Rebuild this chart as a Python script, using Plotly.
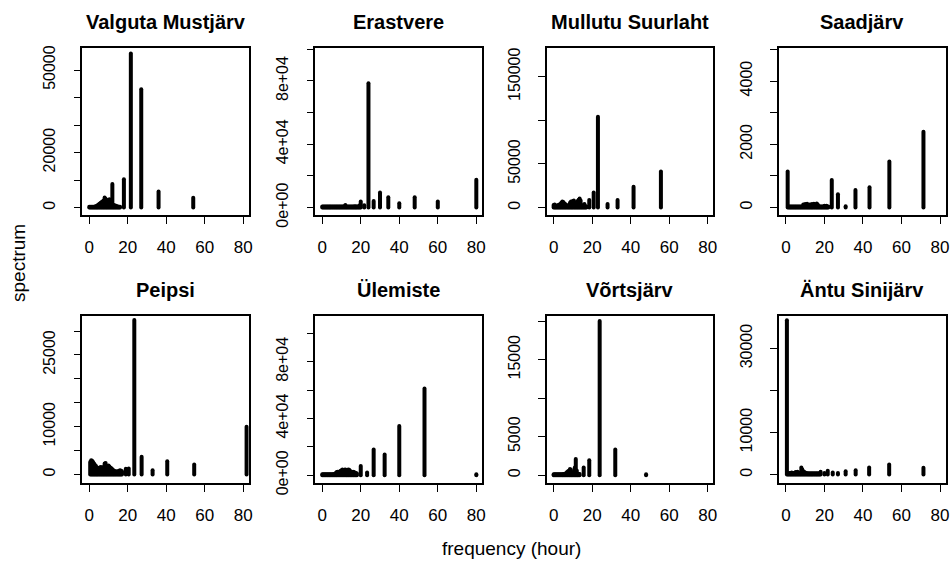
import plotly.graph_objects as go

# ---------------- data ----------------
titles = ["Valguta Mustjärv", "Erastvere", "Mullutu Suurlaht", "Saadjärv",
          "Peipsi", "Ülemiste", "Võrtsjärv", "Äntu Sinijärv"]

x_valguta = [0, 0.5, 1, 1.5, 2, 2.5, 3, 3.5, 4, 4.5, 5, 5.5, 6, 6.5, 7, 7.5, 8, 8.5,
             9, 9.5, 10, 10.5, 11, 11.5, 12, 12.5, 13, 13.5, 14, 14.5, 15, 15.5, 16,
             18, 21.6, 27, 36, 54]
y_valguta = [300, 300, 300, 300, 300, 300, 400, 500, 700, 900, 1200, 1500, 1800, 2000, 2300, 2600, 3700, 3200,
             2200, 2800, 2600, 3000, 1500, 900, 8600, 600, 900, 400, 700, 300, 400, 300, 300,
             10300, 56000, 43000, 5800, 3600]

x_erastvere = [0, 0.5, 1, 1.5, 2, 2.5, 3, 3.5, 4, 4.5, 5, 5.5, 6, 6.5, 7, 7.5, 8, 8.5,
               9, 9.5, 10, 10.5, 11, 11.5, 12, 12.5, 13, 13.5, 14, 14.5, 15, 15.5, 16,
               16.5, 17, 17.5, 18, 18.5, 19, 19.5, 20, 21.8, 24, 26.7, 30, 34.3, 40, 48, 60, 80]
y_erastvere = [600, 600, 600, 600, 600, 600, 600, 600, 600, 600, 600, 600, 600, 600, 600, 600, 600, 600,
               600, 600, 600, 600, 700, 800, 1700, 700, 600, 600, 700, 600, 700, 600, 700,
               600, 800, 600, 600, 700, 900, 1500, 3800, 1500, 78600, 4200, 9500, 6500, 2700, 6500, 3800, 17500]

x_mullutu = [0, 0.5, 1, 1.5, 2, 2.5, 3, 3.5, 4, 4.5, 5, 5.5, 6, 6.5, 7, 7.5, 8, 8.5,
             9, 9.5, 10, 10.5, 11, 11.5, 12, 12.5, 13, 13.5, 14, 14.5, 15, 15.5, 16, 16.5, 17,
             18.5, 20.8, 23, 28, 33.2, 41.5, 55.7]
y_mullutu = [3000, 3500, 2500, 2000, 2500, 3000, 3500, 4000, 5500, 7000, 6500, 5000, 4000, 3000, 2500, 2000, 3000, 5500,
             7000, 6000, 7500, 8000, 6000, 4000, 5000, 7500, 9000, 10500, 8000, 3000, 2000, 1500, 4000, 1500, 1200,
             8800, 17200, 104200, 4200, 8800, 24000, 41200]

x_saadjarv = [0.9, 1.5, 2, 2.5, 3, 3.5, 4, 4.5, 5, 5.5, 6, 6.5, 7, 7.5, 8, 8.5, 9, 9.5, 10, 10.5,
              11, 11.5, 12, 12.5, 13, 13.5, 14, 14.5, 15, 15.5, 16, 16.5, 17, 17.5, 18, 18.5,
              19, 19.5, 20, 20.5, 21, 21.5, 22, 23.8, 27, 31, 36.1, 43.4, 53.7, 71.4]
y_saadjarv = [1137, 35, 35, 35, 35, 35, 35, 35, 35, 35, 35, 35, 35, 35, 35, 35, 100, 60, 110, 80,
              120, 70, 90, 100, 60, 110, 80, 120, 60, 90, 130, 100, 50, 35, 35, 35,
              35, 35, 60, 35, 60, 35, 35, 874, 421, 40, 558, 642, 1453, 2400]

x_peipsi = [0.5, 1, 1.5, 2, 2.5, 3, 3.5, 4, 4.5, 5, 5.5, 6, 6.5, 7, 7.5, 8, 8.5,
            9, 9.5, 10, 10.5, 11, 11.5, 12, 12.5, 13, 13.5, 14, 14.5, 15, 15.5, 16, 16.5, 17,
            19, 20.5, 23.4, 27.2, 32.9, 40.5, 54.5, 81.7]
y_peipsi = [2600, 3000, 2900, 2600, 2300, 2000, 1800, 1500, 1400, 1300, 1500, 1600, 1500, 1400, 1600, 2300, 2400,
            1600, 1800, 1900, 1700, 1400, 1300, 1100, 900, 800, 600, 700, 600, 700, 800, 900, 800, 700,
            1200, 1250, 32300, 3700, 900, 2800, 2100, 10000]

x_ulemiste = [0, 0.5, 1, 1.5, 2, 2.5, 3, 3.5, 4, 4.5, 5, 5.5, 6, 6.5, 7, 7.5, 8, 8.5,
              9, 9.5, 10, 10.5, 11, 11.5, 12, 12.5, 13, 13.5, 14, 14.5, 15, 15.5, 16, 16.5, 17, 17.5, 18,
              20, 23.3, 26.7, 32.4, 40, 53.1, 80]
y_ulemiste = [700, 700, 700, 700, 700, 700, 700, 700, 700, 700, 700, 700, 800, 900, 1500, 2200, 2400, 2000,
              2600, 3000, 3500, 4000, 3200, 3800, 4000, 3000, 3500, 4000, 3800, 3000, 2500, 2000, 2400, 2200, 1800, 1500, 1200,
              6600, 1900, 18100, 14600, 34800, 61200, 700]

x_vortsjarv = [0, 0.5, 1, 1.5, 2, 2.5, 3, 3.5, 4, 4.5, 5, 5.5, 6, 6.5, 7, 7.5, 8, 8.5,
               9, 9.5, 10, 10.5, 11, 11.5, 12, 12.5, 13, 13.5, 15.6, 18.5, 23.9, 32, 48]
y_vortsjarv = [130, 130, 130, 130, 130, 130, 130, 130, 130, 130, 150, 150, 200, 300, 400, 500, 600, 800,
               700, 300, 300, 200, 1000, 2100, 600, 200, 200, 150, 1000, 1950, 20000, 3330, 130]

x_antu = [0.5, 1, 1.5, 2, 2.5, 3, 3.5, 4, 4.5, 5, 5.5, 6, 6.5, 7, 7.5, 8, 8.5,
          9, 9.5, 10, 10.5, 11, 11.5, 12, 12.5, 13, 13.5, 14, 14.5, 15, 15.5, 16, 16.5, 17, 17.5, 18,
          20, 21.7, 24.3, 27, 31, 36.2, 43.2, 53.6, 71.4]
y_antu = [36700, 300, 300, 400, 300, 500, 400, 400, 300, 600, 500, 700, 400, 400, 500, 1670, 1200,
          800, 600, 500, 400, 300, 300, 250, 300, 250, 300, 250, 300, 250, 300, 250, 300, 250, 300, 700,
          400, 900, 500, 350, 800, 1000, 1700, 2400, 1600]

series = [(x_valguta, y_valguta), (x_erastvere, y_erastvere), (x_mullutu, y_mullutu),
          (x_saadjarv, y_saadjarv), (x_peipsi, y_peipsi), (x_ulemiste, y_ulemiste),
          (x_vortsjarv, y_vortsjarv), (x_antu, y_antu)]

x_ticks = [0, 20, 40, 60, 80]
y_tickvals = [
    [0, 10000, 20000, 30000, 40000, 50000],
    [0, 20000, 40000, 60000, 80000, 100000],
    [0, 50000, 100000, 150000],
    [0, 1000, 2000, 3000, 4000, 5000],
    [0, 5000, 10000, 15000, 20000, 25000, 30000],
    [0, 20000, 40000, 60000, 80000, 100000],
    [0, 5000, 10000, 15000, 20000],
    [0, 10000, 20000, 30000],
]
y_ticktext = [
    ["0", "", "20000", "", "", "50000"],
    ["0e+00", "", "4e+04", "", "8e+04", ""],
    ["0", "50000", "", "150000"],
    ["0", "", "2000", "", "4000", ""],
    ["0", "", "10000", "", "", "25000", ""],
    ["0e+00", "", "4e+04", "", "8e+04", ""],
    ["0", "5000", "", "15000", ""],
    ["0", "10000", "", "30000"],
]
y_ranges = [[-2660, 58110], [-4630, 101000], [-8400, 183200], [-232, 5053],
            [-1743, 33200], [-5400, 112500], [-1000, 20700], [-1980, 37800]]
x_range = [-3.6, 82.9]

# ---------------- layout geometry (pixels) ----------------
W, H = 950, 561
col_left = [82.3, 315.3, 546.7, 779.0]
box_w = 166.6
row_top = [47.7, 315.7]
box_h = 167.2

FONT = "Liberation Sans, Arial, sans-serif"

fig = go.Figure()
layout = dict(width=W, height=H, margin=dict(l=0, r=0, t=0, b=0, autoexpand=False),
              paper_bgcolor="white", plot_bgcolor="white", showlegend=False,
              font=dict(family=FONT, color="black"))
annotations = []

for i, (xs, ys) in enumerate(series):
    r, c = divmod(i, 4)
    X, Y = [], []
    for xv, yv in zip(xs, ys):
        X += [xv, xv, None]
        Y += [0, yv, None]
    sfx = "" if i == 0 else str(i + 1)
    fig.add_trace(go.Scatter(x=X, y=Y, mode="lines",
                             line=dict(color="black", width=4),
                             xaxis="x" + sfx, yaxis="y" + sfx,
                             hoverinfo="skip"))
    x0 = col_left[c] / W
    x1 = (col_left[c] + box_w) / W
    yt = 1 - row_top[r] / H
    yb = 1 - (row_top[r] + box_h) / H
    layout["xaxis" + sfx] = dict(
        domain=[x0, x1], anchor="y" + sfx, range=x_range, automargin=False,
        tickmode="array", tickvals=x_ticks, ticktext=[str(v) for v in x_ticks],
        ticks="outside", ticklen=7, tickwidth=1.3, tickcolor="black",
        showline=True, mirror=True, linecolor="black", linewidth=1.5,
        showgrid=False, zeroline=False, fixedrange=True,
        ticklabeloverflow="allow",
        tickfont=dict(size=17, family=FONT, color="black"),
        ticklabelstandoff=9)
    layout["yaxis" + sfx] = dict(
        domain=[yb, yt], anchor="x" + sfx, range=y_ranges[i], automargin=False,
        tickmode="array", tickvals=y_tickvals[i], ticktext=y_ticktext[i],
        ticks="outside", ticklen=7, tickwidth=1.3, tickcolor="black",
        showline=True, mirror=True, linecolor="black", linewidth=1.5,
        showgrid=False, zeroline=False, fixedrange=True, tickangle=-90,
        ticklabeloverflow="allow",
        tickfont=dict(size=16, family=FONT, color="black"),
        ticklabelstandoff=12)
    annotations.append(dict(
        text="<b>" + titles[i] + "</b>", x=(col_left[c] + box_w / 2) / W,
        y=1 - (row_top[r] - 26) / H, xref="paper", yref="paper",
        xanchor="center", yanchor="middle", showarrow=False,
        font=dict(size=20, family=FONT, color="black")))

annotations.append(dict(text="spectrum", x=18 / W, y=1 - 263 / H, xref="paper", yref="paper",
                        textangle=-90, xanchor="center", yanchor="middle", showarrow=False,
                        font=dict(size=19, family=FONT, color="black")))
annotations.append(dict(text="frequency (hour)", x=511 / W, y=1 - 548 / H, xref="paper", yref="paper",
                        xanchor="center", yanchor="middle", showarrow=False,
                        font=dict(size=19, family=FONT, color="black")))
layout["annotations"] = annotations
fig.update_layout(**layout)

post = ("var s=document.createElement('style');"
        "s.innerHTML='html,body{margin:0;padding:0;width:950px;height:561px;overflow:hidden}"
        ".plotly-graph-div{position:fixed;top:0;left:0}"
        ".js-line{stroke-linecap:round}';"
        "document.head.appendChild(s);")
fig.write_html("out.html", config={"displayModeBar": False}, post_script=post)
